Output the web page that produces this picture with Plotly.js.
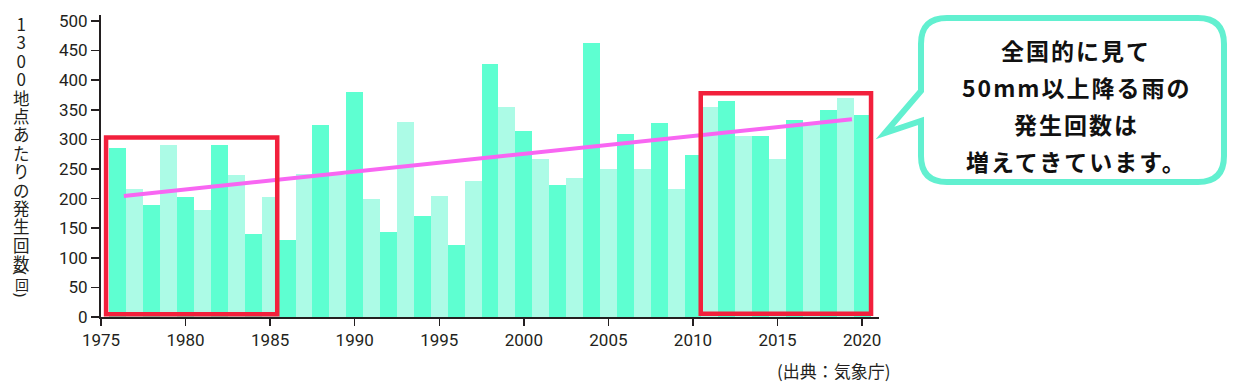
<!DOCTYPE html>
<html>
<head>
<meta charset="utf-8">
<script src="https://cdn.plot.ly/plotly-3.0.1.min.js"></script>
<style>
html,body{margin:0;padding:0;background:#ffffff;}
#chart{width:1233px;height:387px;}
</style>
</head>
<body>
<div id="chart"></div>
<script>
// ---- data ----
const years = [1976,1977,1978,1979,1980,1981,1982,1983,1984,1985,
               1986,1987,1988,1989,1990,1991,1992,1993,1994,1995,
               1996,1997,1998,1999,2000,2001,2002,2003,2004,2005,
               2006,2007,2008,2009,2010,2011,2012,2013,2014,2015,
               2016,2017,2018,2019,2020];
const counts = [285,217,189,291,202,180,291,240,140,202,
                130,241,324,240,380,199,144,330,171,204,
                121,230,428,355,314,266,223,235,462,250,
                309,250,328,217,273,355,365,305,305,266,
                332,328,349,370,341];
const trendYears = [1976.35, 2019.4];
const trendValues = [204.5, 333.8];
const xTickYears = [1975,1980,1985,1990,1995,2000,2005,2010,2015,2020];
const xTickLabels = ["1975","1980","1985","1990","1995","2000","2005","2010","2015","2020"];
const yTickValues = [0,50,100,150,200,250,300,350,400,450,500];
const yTickLabels = ["0","50","100","150","200","250","300","350","400","450","500"];
const yAxisTitle = "1300地点あたりの発生回数";
const yAxisUnit = ["(", "回", ")"];
const calloutLines = ["全国的に見て","50mm以上降る雨の","発生回数は","増えてきています。"];
const sourceNote = "(出典：気象庁)";

// ---- styles ----
const DARK = "#5effd1";
const LIGHT = "#acfbe6";
const PINK = "#f866f2";
const RED = "#f2203c";
const TEAL = "#62f0d0";
const INK = "#231f20";

// ---- layout geometry ----
const W = 1233, H = 387;
const L = 101, T = 15, PW = 778, PH = 302;
const X = px => (px - L) / PW;          // pixel -> paper x
const Y = py => (T + PH - py) / PH;     // pixel -> paper y

const barColors = years.map(y => (y % 2 === 0 ? DARK : LIGHT));

const traces = [
  {
    type: "bar",
    x: years,
    y: counts,
    marker: {color: barColors, line: {width: 0}},
    hoverinfo: "skip"
  },
  {
    type: "scatter",
    mode: "lines",
    x: trendYears,
    y: trendValues,
    line: {color: PINK, width: 4},
    hoverinfo: "skip"
  }
];

// callout bubble path (rounded box with a tail pointing left)
function calloutPath() {
  const l = 921, r = 1224, t = 18, b = 182, rad = 26;
  const p = (a, c) => X(a).toFixed(5) + "," + Y(c).toFixed(5);
  return "M " + p(l, t + rad) +
    " Q " + p(l, t) + " " + p(l + rad, t) +
    " L " + p(r - rad, t) +
    " Q " + p(r, t) + " " + p(r, t + rad) +
    " L " + p(r, b - rad) +
    " Q " + p(r, b) + " " + p(r - rad, b) +
    " L " + p(l + rad, b) +
    " Q " + p(l, b) + " " + p(l, b - rad) +
    " L " + p(l, 121) +
    " L " + p(885, 133) +
    " L " + p(l, 91) + " Z";
}

const shapes = [
  {type: "rect", xref: "x", yref: "y", x0: 1975.3, x1: 1985.42, y0: 4.5, y1: 303,
   line: {color: RED, width: 4.5}, fillcolor: "rgba(0,0,0,0)"},
  {type: "rect", xref: "x", yref: "y", x0: 2010.46, x1: 2020.53, y0: 5.5, y1: 378,
   line: {color: RED, width: 4.5}, fillcolor: "rgba(0,0,0,0)"},
  {type: "path", xref: "paper", yref: "paper", path: calloutPath(),
   line: {color: TEAL, width: 6}, fillcolor: "#ffffff"}
];

const annotations = [];

// vertical y-axis title: one character per line, tight line pitch
const STEP = 18.4;
const titleText = Array.from(yAxisTitle).map(c =>
  /[0-9]/.test(c) ? '<span style="font-size:17px">' + c + '</span>'
                  : '<span style="font-size:16.5px">' + c + '</span>'
).join("<br>");
const nTitle = Array.from(yAxisTitle).length;
annotations.push({
  xref: "paper", yref: "paper", x: X(21.5), y: Y(23 + STEP * (nTitle - 1) / 2),
  xanchor: "center", yanchor: "middle", showarrow: false,
  text: titleText,
  font: {family: "Noto Sans CJK JP", size: STEP / 1.3, color: INK}
});
// unit (回) with parentheses turned for vertical writing
const unitY = [273, 284, 295];
yAxisUnit.forEach((c, i) => {
  const paren = (c === "(" || c === ")");
  annotations.push({
    xref: "paper", yref: "paper", x: X(21.5), y: Y(unitY[i]),
    xanchor: "center", yanchor: "middle", showarrow: false,
    text: c,
    textangle: paren ? 90 : 0,
    font: paren ? {family: "Noto Sans", size: 15, color: INK}
                : {family: "Noto Sans CJK JP", size: 14, color: INK}
  });
});

// callout text
const lineY = [50, 87.5, 124, 161];
calloutLines.forEach((s, i) => {
  annotations.push({
    xref: "paper", yref: "paper", x: X(1076), y: Y(lineY[i]),
    xanchor: "center", yanchor: "middle", showarrow: false,
    text: '<span style="letter-spacing:2px">' + s + '</span>',
    font: {family: "Noto Sans CJK JP", size: 23, color: "#111111", weight: 700}
  });
});

// source note
annotations.push({
  xref: "paper", yref: "paper", x: X(834), y: Y(370.5),
  xanchor: "center", yanchor: "middle", showarrow: false,
  text: sourceNote, font: {family: "Noto Sans CJK JP", size: 17, color: INK}
});

const layout = {
  width: W, height: H,
  margin: {l: L, r: W - L - PW, t: T, b: H - T - PH, pad: 0},
  paper_bgcolor: "#ffffff",
  plot_bgcolor: "#ffffff",
  showlegend: false,
  bargap: 0,
  xaxis: {
    range: [1975, 2021],
    tickmode: "array", tickvals: xTickYears, ticktext: xTickLabels,
    ticks: "outside", ticklen: 7, tickwidth: 1.5, tickcolor: INK,
    showline: true, linewidth: 2, linecolor: INK,
    showgrid: false, zeroline: false,
    tickfont: {family: "Roboto", size: 17, color: INK}
  },
  yaxis: {
    range: [0, 510],
    tickmode: "array", tickvals: yTickValues, ticktext: yTickLabels,
    ticks: "outside", ticklen: 8, tickwidth: 1.5, tickcolor: INK,
    showline: true, linewidth: 2, linecolor: INK,
    showgrid: false, zeroline: false,
    tickfont: {family: "Roboto", size: 17, color: INK}
  },
  shapes: shapes,
  annotations: annotations
};

Plotly.newPlot("chart", traces, layout, {displayModeBar: false, staticPlot: true});
</script>
</body>
</html>
